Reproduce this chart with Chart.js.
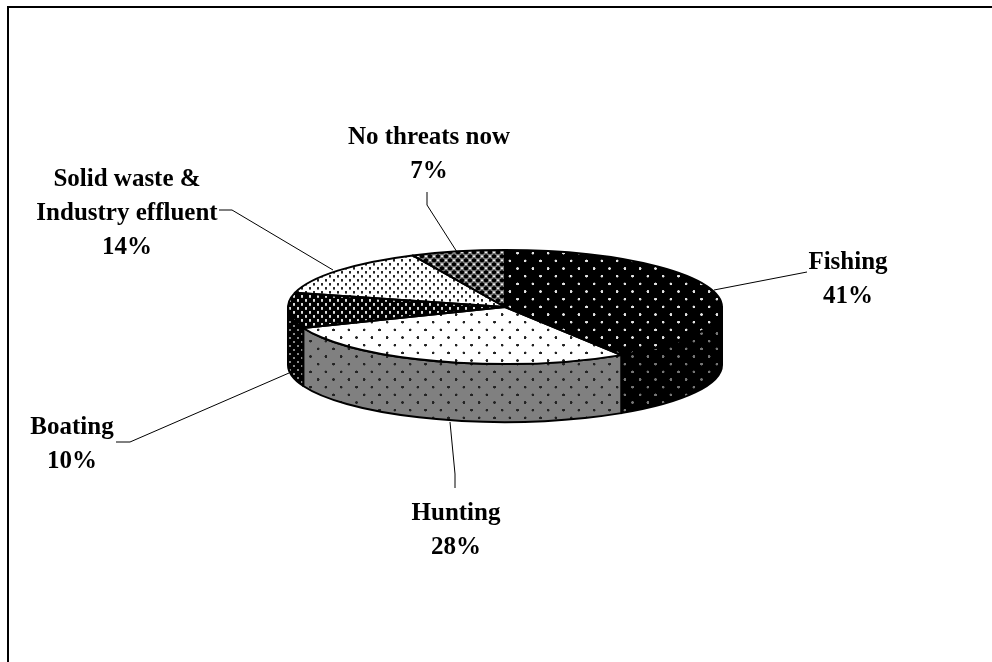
<!DOCTYPE html>
<html>
<head>
<meta charset="utf-8">
<style>
  html, body { margin: 0; padding: 0; background: #fff; overflow: hidden; }
  canvas { display: block; }
</style>
<script src="https://cdn.jsdelivr.net/npm/chart.js@4"></script>
</head>
<body>
<canvas id="threatsPie" width="992" height="662"></canvas>
<script>
const categories = ["Fishing", "Hunting", "Boating", "Solid waste & Industry effluent", "No threats now"];
const shares = [41, 28, 10, 14, 7];

// label lines per slice, the percentage is appended from shares
const labelLines = [["Fishing"], ["Hunting"], ["Boating"], ["Solid waste &", "Industry effluent"], ["No threats now"]];
const labelX = [848, 456, 72, 127, 429];
const labelY = [269, 520, 434, 186, 144];
const leaderPaths = [
    [[714, 290], [807, 272]],
    [[450, 422], [455, 474], [455, 488]],
    [[289, 373], [130, 442], [116, 442]],
    [[333, 270], [232, 210], [219, 210]],
    [[457, 252], [427, 205], [427, 192]],
];

const PIE_X = 505;
const PIE_Y = 307;
const PIE_RX = 217;
const PIE_RY = 57;
const PIE_DEPTH = 58;
const SQUASH = PIE_RY / PIE_RX;

// tiles are drawn at 3x and scaled back down, which keeps the dot spacing fractional
function makeTile(size, paint, yScale) {
    const tile = document.createElement("canvas");
    tile.width = size;
    tile.height = size;
    paint(tile.getContext("2d"), size);
    const pattern = tile.getContext("2d").createPattern(tile, "repeat");
    pattern.setTransform(new DOMMatrix().scale(1 / 3, 1 / (3 * yScale)));
    return pattern;
}

function dotted(background, dot, radius) {
    return (ctx, size) => {
        ctx.fillStyle = background;
        ctx.fillRect(0, 0, size, size);
        ctx.fillStyle = dot;
        [[size / 4, size / 4], [size * 3 / 4, size * 3 / 4]].forEach(([x, y]) => {
            ctx.beginPath();
            ctx.arc(x, y, radius, 0, Math.PI * 2);
            ctx.fill();
        });
    };
}

function mesh(ctx, size) {
    ctx.fillStyle = "#777";
    ctx.fillRect(0, 0, size, size);
    [[size / 4, size / 4, "#000", 6], [size * 3 / 4, size * 3 / 4, "#000", 6],
     [size * 3 / 4, size / 4, "#eee", 3], [size / 4, size * 3 / 4, "#eee", 3]].forEach(([x, y, color, r]) => {
        ctx.fillStyle = color;
        ctx.beginPath();
        ctx.arc(x, y, r, 0, Math.PI * 2);
        ctx.fill();
    });
}

const topFills = [
    makeTile(46, dotted("#000", "#e4e4e4", 4), SQUASH),
    makeTile(46, dotted("#fff", "#222", 4), SQUASH),
    makeTile(24, dotted("#000", "#ddd", 4), SQUASH),
    makeTile(24, dotted("#fff", "#222", 3.8), SQUASH),
    makeTile(24, mesh, SQUASH),
];

const wallFills = [
    makeTile(46, dotted("#000", "#777", 4), 1),
    makeTile(46, dotted("#808080", "#222", 4), 1),
    makeTile(24, dotted("#000", "#888", 4), 1),
    "#000",
    "#000",
];

// squashes the flat pie into an ellipse and adds the rim below it
const tiltedPie = {
    id: "tiltedPie",
    beforeDraw(chart) {
        const ctx = chart.ctx;
        ctx.save();
        ctx.fillStyle = "#fff";
        ctx.fillRect(0, 0, chart.width, chart.height);
        ctx.strokeStyle = "#000";
        ctx.lineWidth = 2;
        ctx.beginPath();
        ctx.moveTo(992, 7);
        ctx.lineTo(8, 7);
        ctx.lineTo(8, 662);
        ctx.stroke();
        ctx.restore();
    },
    beforeDatasetsDraw(chart) {
        const ctx = chart.ctx;
        const arcs = chart.getDatasetMeta(0).data;
        ctx.save();
        ctx.lineWidth = 2;
        ctx.strokeStyle = "#000";
        ctx.lineJoin = "round";
        arcs.forEach((arc, i) => {
            const from = Math.max(arc.startAngle, 0);
            const to = Math.min(arc.endAngle, Math.PI);
            if (to <= from) {
                return;
            }
            ctx.beginPath();
            ctx.ellipse(arc.x, arc.y, arc.outerRadius, PIE_RY, 0, from, to);
            ctx.ellipse(arc.x, arc.y + PIE_DEPTH, arc.outerRadius, PIE_RY, 0, to, from, true);
            ctx.closePath();
            ctx.fillStyle = wallFills[i];
            ctx.fill();
            ctx.stroke();
        });
        ctx.restore();

        ctx.save();
        ctx.translate(PIE_X, PIE_Y);
        ctx.scale(1, SQUASH);
        ctx.translate(-PIE_X, -PIE_Y);
    },
    afterDatasetsDraw(chart) {
        const ctx = chart.ctx;
        ctx.restore();

        // outlines go on after the restore so the pen stays round
        ctx.save();
        ctx.lineWidth = 2;
        ctx.strokeStyle = "#000";
        ctx.lineJoin = "round";
        chart.getDatasetMeta(0).data.forEach(arc => {
            ctx.beginPath();
            ctx.moveTo(arc.x, arc.y);
            ctx.ellipse(arc.x, arc.y, arc.outerRadius, PIE_RY, 0, arc.startAngle, arc.endAngle);
            ctx.closePath();
            ctx.stroke();
        });
        ctx.restore();
    },
    afterDraw(chart) {
        const ctx = chart.ctx;
        ctx.save();
        ctx.strokeStyle = "#000";
        ctx.lineWidth = 1;
        leaderPaths.forEach(path => {
            ctx.beginPath();
            path.forEach(([x, y], i) => (i ? ctx.lineTo(x, y) : ctx.moveTo(x, y)));
            ctx.stroke();
        });

        ctx.fillStyle = "#000";
        ctx.font = "bold 25px 'Liberation Serif', serif";
        ctx.textAlign = "center";
        ctx.textBaseline = "alphabetic";
        labelLines.forEach((lines, i) => {
            [...lines, `${shares[i]}%`].forEach((line, row) => {
                ctx.fillText(line, labelX[i], labelY[i] + row * 34);
            });
        });
        ctx.restore();
    },
};

new Chart(document.getElementById("threatsPie"), {
    type: "pie",
    data: {
        labels: categories,
        datasets: [{
            data: shares,
            backgroundColor: topFills,
            borderWidth: 0,
            radius: PIE_RX,
        }],
    },
    options: {
        responsive: false,
        animation: false,
        events: [],
        layout: { padding: { left: 18, bottom: 48 } },
        plugins: {
            legend: { display: false },
            tooltip: { enabled: false },
        },
    },
    plugins: [tiltedPie],
});
</script>
</body>
</html>
